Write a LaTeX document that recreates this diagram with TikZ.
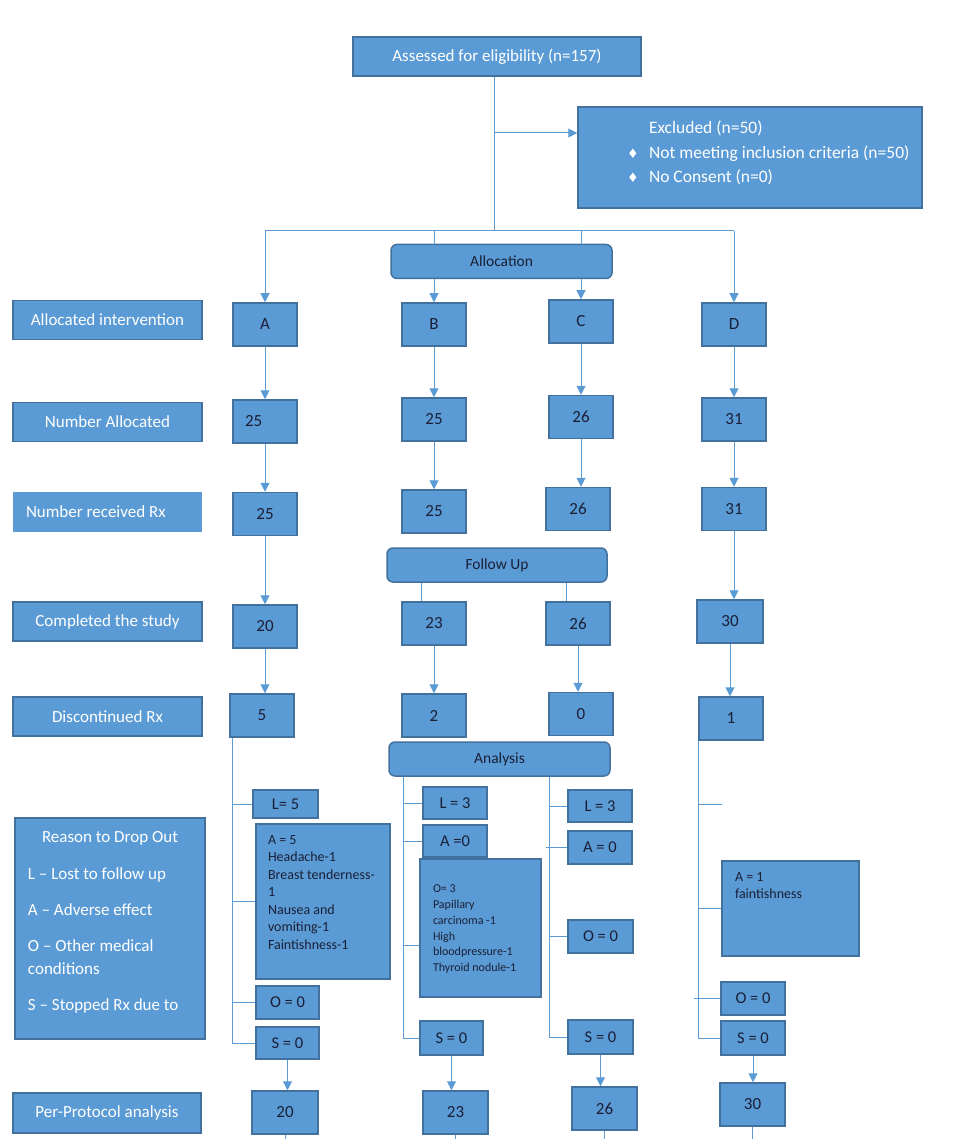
\documentclass[tikz,border=0pt]{standalone}
\usepackage{fontspec}
\setmainfont{Carlito}
\newfontfamily\djv{DejaVu Sans}
\usetikzlibrary{arrows.meta,calc}
\definecolor{bfill}{HTML}{5B9BD5}
\definecolor{bdraw}{HTML}{41719C}
\definecolor{conncol}{HTML}{5B9BD5}
\definecolor{dtext}{HTML}{1A1F36}
% width, height, top pad, left pad, content
\newcommand\tlbox[5]{\parbox[c][#2][t]{#1}{\raggedright\leftskip=#4\relax\vspace*{#3}#5}}
\newcommand\bul{\makebox[22pt][l]{\djv\fontsize{13}{13}\selectfont ♦}}
\begin{document}
\begin{tikzpicture}[x=1pt,y=-1pt,
 box/.style={draw=bdraw,fill=bfill,line width=1.5pt,inner sep=0pt,font=\fontsize{17}{20}\selectfont},
 lab/.style={box,text=white,minimum width=189pt,minimum height=39pt,font=\fontsize{17}{20}\selectfont},
 num/.style={box,text=dtext,minimum width=64pt,minimum height=43pt},
 small/.style={box,text=dtext,minimum width=64pt,minimum height=33pt,font=\fontsize{16.5}{19}\selectfont},
 det/.style={box,text=dtext,font=\fontsize{14}{17.5}\selectfont},
 rbox/.style={box,rounded corners=6pt,text=dtext,minimum width=221pt,minimum height=34pt,font=\fontsize{15.5}{18}\selectfont},
 conn/.style={draw=conncol,line width=1pt},
 arr/.style={conn,-{Triangle[width=9pt,length=9pt]}},
]
\useasboundingbox (0,0) rectangle (965,1139);

% top
\node[box,text=white,minimum width=288pt,minimum height=39pt,font=\fontsize{17}{20}\selectfont] (top) at (497,56.5) {Assessed for eligibility (n=157)};
\node[box,text=white,font=\fontsize{17.5}{24.5}\selectfont] (excl) at (750,157.5)
 {\tlbox{344pt}{101pt}{14pt}{0pt}{\hspace*{71pt}Excluded (n=50)\\
 \hspace*{49pt}\bul Not meeting inclusion criteria (n=50)\\
 \hspace*{49pt}\bul No Consent (n=0)}};
\node[rbox] (alloc) at (501.5,261.5) {Allocation};

% left labels
\node[lab] (l1) at (107.5,320) {Allocated intervention};
\node[lab] (l2) at (107.5,422) {Number Allocated};
\node[lab,draw=none,minimum height=40pt] (l3) at (107.5,512) {\makebox[163pt][l]{Number received Rx}};
\node[lab] (l4) at (107.5,621.5) {Completed the study};
\node[lab] (l5) at (107.5,716.5) {Discontinued Rx};
\node[box,text=white,font=\fontsize{17}{23}\selectfont] (reason) at (110,928.5)
 {\tlbox{190pt}{221pt}{13pt}{13pt}{{\centering Reason to Drop Out\par}\vspace{14pt}
 L – Lost to follow up\par\vspace{13pt}
 A – Adverse effect\par\vspace{13pt}
 O – Other medical\\conditions\par\vspace{13pt}
 S – Stopped Rx due to}};
\node[lab,minimum width=188pt,minimum height=40pt] (l6) at (107,1113) {Per-Protocol analysis};

% row 1
\node[num] (A1) at (265,324.5) {A};
\node[num] (B1) at (434,324.5) {B};
\node[num] (C1) at (581,321.5) {C};
\node[num] (D1) at (734,324.5) {D};
% row 2
\node[num] (A2) at (265,421.5) {\makebox[40pt][l]{25}};
\node[num] (B2) at (434,419.5) {25};
\node[num] (C2) at (581,417) {26};
\node[num] (D2) at (734,419.5) {31};
% row 3
\node[num] (A3) at (265,514) {25};
\node[num] (B3) at (434,511.5) {25};
\node[num] (C3) at (578,509) {26};
\node[num] (D3) at (734,509) {31};
\node[rbox,minimum width=220pt] (follow) at (497,565) {Follow Up};
% row 4
\node[num] (A4) at (265,626.5) {20};
\node[num] (B4) at (434,623.5) {23};
\node[num] (C4) at (578,623.5) {26};
\node[num,minimum width=66pt] (D4) at (730,621.5) {30};
% row 5
\node[num] (A5) at (262,715.5) {5};
\node[num] (B5) at (434,715.5) {2};
\node[num] (C5) at (581,714) {0};
\node[num] (D5) at (731,718.5) {1};
\node[rbox] (analysis) at (499.5,759) {Analysis};

% column A details
\node[small,minimum width=65pt,minimum height=28pt] (AL) at (285.5,804) {L= 5};
\node[det] (AA) at (323,901.5) {\tlbox{134pt}{155pt}{11.5pt}{12pt}{A = 5\\Headache-1\\Breast tenderness-\\1\\Nausea and\\vomiting-1\\Faintishness-1}};
\node[small,minimum width=63pt] (AO) at (287.5,1002.5) {O = 0};
\node[small,minimum width=63pt,minimum height=32pt] (AS) at (287.5,1043) {S = 0};
% column B details
\node[small,minimum height=32pt] (BL) at (455,803) {L = 3};
\node[small,minimum height=32pt] (BA) at (455,841) {A =0};
\node[det,font=\fontsize{12}{15.8}\selectfont] (BO) at (480.5,928) {\tlbox{121pt}{138pt}{26pt}{13pt}{O= 3\\Papillary\\carcinoma -1\\High\\bloodpressure-1\\Thyroid nodule-1}};
\node[small,minimum width=63pt,minimum height=34pt] (BS) at (451.5,1038) {S = 0};
% column C details
\node[small,minimum height=32pt] (CL) at (600,806) {L = 3};
\node[small] (CA) at (600,847.5) {A = 0};
\node[small,minimum width=65pt] (CO) at (600.5,936.5) {O = 0};
\node[small,minimum width=65pt,minimum height=34pt] (CS) at (600.5,1037) {S = 0};
% column D details
\node[det,font=\fontsize{14}{17}\selectfont] (DA) at (790.5,908.5) {\tlbox{137pt}{95pt}{11.5pt}{13pt}{A = 1\\faintishness}};
\node[small] (DO) at (753,998.5) {O = 0};
\node[small,minimum height=34pt] (DS) at (753,1038) {S = 0};

% per protocol
\node[num,minimum width=66pt] (PA) at (285,1112.5) {20};
\node[num,minimum width=65pt] (PB) at (455.5,1112.5) {23};
\node[num,minimum width=65pt] (PC) at (604.5,1108.5) {26};
\node[num,minimum width=65pt] (PD) at (752.5,1104.5) {30};

% ---- connectors
\coordinate (hub) at (494,231);
\coordinate (exb) at (494,133);
\draw[conn] (top.south -| hub) -- (hub);
\draw[arr] (exb) -- (excl.west |- exb);
\draw[conn] (A1.north |- hub) -- (D1.north |- hub);
\draw[arr] (A1.north |- hub) -- (A1.north);
\draw[conn] (B1.north |- hub) -- (B1.north |- alloc.north);
\draw[arr] (B1.north |- alloc.south) -- (B1.north);
\draw[conn] (C1.north |- hub) -- (C1.north |- alloc.north);
\draw[arr] (C1.north |- alloc.south) -- (C1.north);
\draw[arr] (D1.north |- hub) -- (D1.north);

\foreach \c in {A,B,C,D}{
  \draw[arr] (\c1.south) -- (\c1.south |- \c2.north);
  \draw[arr] (\c2.south) -- (\c2.south |- \c3.north);
  \draw[arr] (\c4.south) -- (\c4.south |- \c5.north);
}
\draw[arr] (A3.south) -- (A3.south |- A4.north);
\draw[arr] (D3.south) -- (D3.south |- D4.north);
\coordinate (fb) at (421,0);
\coordinate (fc) at (566,0);
\draw[conn] (fb |- follow.south) -- (fb |- B4.north);
\draw[conn] (fc |- follow.south) -- (fc |- C4.north);

% spine A
\coordinate (as) at (232,0);
\draw[conn] (A5.south -| as) |- (AS.west);
\draw[conn] (as |- AL.west) -- (AL.west);
\draw[conn] (as |- AA.west) -- (AA.west);
\draw[conn] (as |- AO.west) -- (AO.west);
% spine B
\coordinate (bs) at (403,0);
\coordinate (bo) at (403,945);
\draw[conn] (analysis.south -| bs) |- (BS.west);
\draw[conn] (bs |- BL.west) -- (BL.west);
\draw[conn] (bs |- BA.west) -- (BA.west);
\draw[conn] (bo) -- (bo -| BO.west);
% spine C
\coordinate (cs) at (549,0);
\coordinate (ca) at (546,0);
\draw[conn] (analysis.south -| cs) |- (CS.west);
\draw[conn] (cs |- CL.west) -- (CL.west);
\draw[conn] (ca |- CA.west) -- (CA.west);
\draw[conn] (cs |- CO.west) -- (CO.west);
% spine D
\coordinate (ds) at (698,0);
\coordinate (dst) at (722,804);
\coordinate (do) at (694,0);
\draw[conn] (D5.south -| ds) |- (DS.west);
\draw[conn] (ds |- dst) -- (dst);
\draw[conn] (ds |- DA.west) -- (DA.west);
\draw[conn] (do |- DO.west) -- (DO.west);

% to per-protocol
\foreach \c in {A,B,C,D}{
  \draw[arr] (\c S.south) -- (\c S.south |- P\c.north);
}
\coordinate (bot) at (0,1139);
\foreach \c in {A,B,C,D}{
  \draw[conn] (P\c.south) -- (P\c.south |- bot);
}
\end{tikzpicture}
\end{document}
